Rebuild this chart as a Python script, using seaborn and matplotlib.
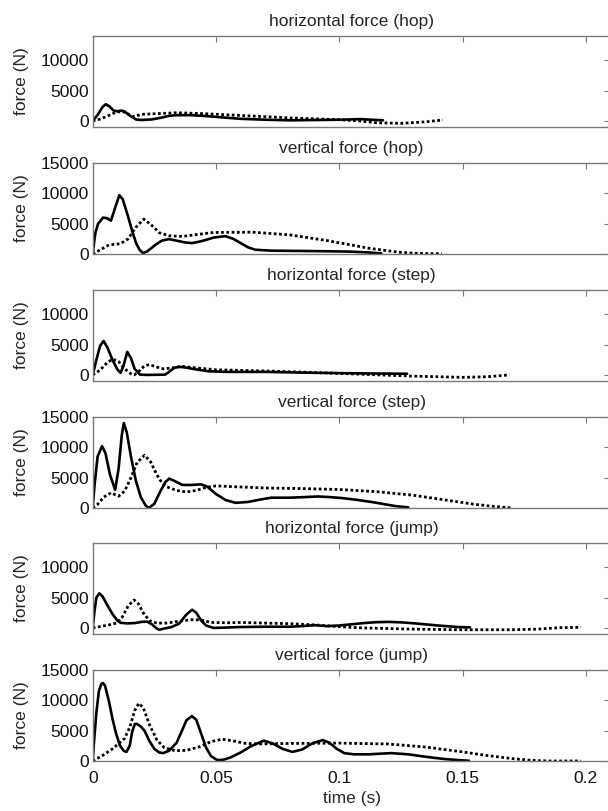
import matplotlib
matplotlib.use("Agg")
import matplotlib.pyplot as plt
import seaborn as sns
import pandas as pd

# ---------------- data ----------------
titles = ["horizontal force (hop)", "vertical force (hop)",
          "horizontal force (step)", "vertical force (step)",
          "horizontal force (jump)", "vertical force (jump)"]

# horizontal hop
hh_solid_t = [0, 0.002, 0.004, 0.0053, 0.0068, 0.0085, 0.010, 0.0115, 0.0128, 0.015, 0.0175, 0.0195, 0.024, 0.028, 0.031, 0.034, 0.040, 0.046, 0.052, 0.060, 0.070, 0.080, 0.090, 0.100, 0.1086, 0.1177]
hh_solid_f = [0, 1000, 2300, 2750, 2400, 1700, 1600, 1700, 1600, 900, 250, 150, 250, 550, 850, 950, 950, 800, 600, 350, 200, 100, 150, 200, 300, 100]
hh_dot_t = [0, 0.003, 0.006, 0.0097, 0.0126, 0.0145, 0.016, 0.018, 0.0207, 0.026, 0.034, 0.045, 0.060, 0.070, 0.080, 0.090, 0.100, 0.108, 0.115, 0.125, 0.135, 0.142]
hh_dot_f = [0, 300, 800, 1500, 1500, 1100, 700, 900, 1100, 1200, 1350, 1200, 900, 700, 500, 350, 200, 0, -300, -400, -150, 150]

# vertical hop
vh_solid_t = [0, 0.0006, 0.0011, 0.0022, 0.0042, 0.0058, 0.0074, 0.009, 0.0108, 0.0122, 0.0144, 0.016, 0.0176, 0.019, 0.0204, 0.022, 0.0254, 0.028, 0.0309, 0.034, 0.0375, 0.0403, 0.044, 0.049, 0.0537, 0.057, 0.060, 0.063, 0.066, 0.0725, 0.085, 0.095, 0.104, 0.112, 0.117]
vh_solid_f = [0, 2000, 3500, 5000, 6000, 5900, 5500, 7500, 9700, 9000, 6100, 3800, 1800, 700, 150, 400, 1500, 2200, 2450, 2200, 1900, 1800, 2100, 2700, 2950, 2500, 1800, 1100, 700, 550, 500, 450, 400, 250, 100]
vh_dot_t = [0, 0.0035, 0.0066, 0.0113, 0.0144, 0.0175, 0.0207, 0.0235, 0.027, 0.031, 0.0364, 0.042, 0.049, 0.0647, 0.080, 0.096, 0.112, 0.124, 0.132, 0.1416]
vh_dot_f = [0, 800, 1500, 1700, 2500, 4400, 5750, 4900, 3500, 3000, 2900, 3200, 3550, 3600, 3150, 2150, 950, 300, 100, 50]

# horizontal step
hs_solid_t = [0, 0.0015, 0.003, 0.0044, 0.006, 0.008, 0.010, 0.0113, 0.0125, 0.014, 0.0155, 0.017, 0.0192, 0.022, 0.0294, 0.031, 0.033, 0.035, 0.038, 0.042, 0.047, 0.055, 0.070, 0.090, 0.110, 0.1275]
hs_solid_f = [0, 2500, 4800, 5600, 4500, 2500, 900, 350, 1500, 3800, 2800, 1000, 50, 0, 50, 500, 1150, 1350, 1200, 900, 600, 500, 500, 350, 250, 200]
hs_dot_t = [0, 0.003, 0.006, 0.0082, 0.0105, 0.013, 0.0155, 0.0168, 0.019, 0.021, 0.023, 0.026, 0.0286, 0.032, 0.0364, 0.041, 0.050, 0.070, 0.090, 0.110, 0.130, 0.150, 0.160, 0.169]
hs_dot_f = [0, 800, 2100, 2600, 2200, 1000, 200, 0, 700, 1500, 1700, 1300, 1000, 1150, 1400, 1200, 850, 650, 400, 100, -200, -400, -300, 0]

# vertical step
vs_solid_t = [0, 0.0008, 0.002, 0.0038, 0.0052, 0.007, 0.0091, 0.0105, 0.0118, 0.0126, 0.0138, 0.0155, 0.0175, 0.0195, 0.0215, 0.0228, 0.025, 0.0275, 0.0295, 0.031, 0.033, 0.0364, 0.040, 0.044, 0.0465, 0.050, 0.054, 0.058, 0.063, 0.068, 0.0725, 0.080, 0.086, 0.0914, 0.096, 0.1008, 0.107, 0.113, 0.118, 0.123, 0.128]
vs_solid_f = [0, 4000, 8500, 10200, 9000, 5500, 3000, 6500, 12000, 14000, 12500, 8500, 4500, 1800, 400, 0, 700, 2800, 4300, 4850, 4500, 3800, 3800, 3900, 3500, 2300, 1300, 850, 1000, 1400, 1700, 1700, 1800, 1900, 1800, 1650, 1350, 1000, 650, 300, 100]
vs_dot_t = [0, 0.002, 0.0045, 0.0074, 0.0105, 0.013, 0.0155, 0.018, 0.021, 0.0235, 0.026, 0.028, 0.030, 0.034, 0.038, 0.042, 0.046, 0.050, 0.055, 0.070, 0.085, 0.100, 0.115, 0.130, 0.145, 0.155, 0.163, 0.170]
vs_dot_f = [0, 600, 1800, 2500, 1950, 2800, 5000, 7500, 8700, 7600, 5500, 4200, 3500, 2900, 2650, 2900, 3400, 3650, 3550, 3300, 3200, 3050, 2700, 2100, 1200, 600, 250, 0]

# horizontal jump
hj_solid_t = [0, 0.0008, 0.0015, 0.0027, 0.004, 0.006, 0.008, 0.010, 0.0113, 0.014, 0.017, 0.020, 0.022, 0.024, 0.026, 0.027, 0.029, 0.032, 0.035, 0.038, 0.0403, 0.042, 0.044, 0.046, 0.049, 0.053, 0.060, 0.070, 0.080, 0.085, 0.090, 0.095, 0.100, 0.105, 0.110, 0.115, 0.120, 0.126, 0.132, 0.140, 0.148, 0.153]
hj_solid_f = [0, 3000, 5000, 5700, 5200, 3700, 2300, 1200, 850, 750, 800, 1000, 1050, 600, -100, -300, -100, 150, 700, 2200, 3000, 2500, 1200, 400, 0, 50, 150, 200, 200, 300, 450, 300, 400, 600, 800, 950, 1000, 900, 700, 400, 150, 100]
hj_dot_t = [0, 0.0066, 0.0097, 0.012, 0.0145, 0.0168, 0.0185, 0.0205, 0.023, 0.026, 0.030, 0.035, 0.040, 0.044, 0.048, 0.055, 0.060, 0.070, 0.080, 0.090, 0.100, 0.110, 0.120, 0.130, 0.150, 0.170, 0.180, 0.190, 0.198]
hj_dot_f = [0, 500, 800, 1800, 3700, 4600, 4000, 2500, 1200, 800, 800, 1100, 1350, 1300, 900, 850, 900, 800, 700, 500, 200, 0, -100, -200, -300, -300, -200, 50, 100]

# vertical jump
vj_solid_t = [0, 0.0005, 0.0015, 0.0025, 0.0035, 0.0042, 0.005, 0.0065, 0.008, 0.0095, 0.011, 0.0125, 0.0137, 0.015, 0.016, 0.0171, 0.018, 0.0195, 0.021, 0.023, 0.025, 0.027, 0.0286, 0.031, 0.034, 0.036, 0.038, 0.0402, 0.042, 0.044, 0.046, 0.048, 0.0505, 0.053, 0.056, 0.060, 0.064, 0.0694, 0.073, 0.077, 0.081, 0.085, 0.089, 0.0933, 0.096, 0.099, 0.102, 0.106, 0.112, 0.121, 0.128, 0.135, 0.142, 0.148, 0.1526]
vj_solid_f = [0, 3000, 8000, 11500, 12700, 12850, 12400, 10000, 7000, 4500, 2600, 1700, 1500, 2500, 4800, 6100, 6100, 5700, 5000, 3300, 2000, 1400, 1300, 1700, 3000, 4800, 6700, 7400, 6800, 4500, 2200, 800, 150, 200, 600, 1400, 2400, 3350, 2900, 2000, 1500, 1900, 2900, 3450, 3000, 2000, 1300, 1100, 1100, 1300, 1100, 700, 350, 150, 50]
vj_dot_t = [0, 0.004, 0.008, 0.0129, 0.015, 0.017, 0.0187, 0.0205, 0.023, 0.026, 0.029, 0.0333, 0.038, 0.043, 0.048, 0.0525, 0.057, 0.062, 0.068, 0.080, 0.100, 0.120, 0.135, 0.150, 0.160, 0.170, 0.178, 0.185, 0.198]
vj_dot_f = [0, 900, 2000, 3700, 5500, 8300, 9500, 8800, 6000, 3500, 2200, 1700, 1750, 2300, 3200, 3600, 3300, 2900, 2800, 2900, 2950, 2800, 2300, 1500, 900, 400, 100, 0, 0]

solid_t = [hh_solid_t, vh_solid_t, hs_solid_t, vs_solid_t, hj_solid_t, vj_solid_t]
solid_f = [hh_solid_f, vh_solid_f, hs_solid_f, vs_solid_f, hj_solid_f, vj_solid_f]
dot_t = [hh_dot_t, vh_dot_t, hs_dot_t, vs_dot_t, hj_dot_t, vj_dot_t]
dot_f = [hh_dot_f, vh_dot_f, hs_dot_f, vs_dot_f, hj_dot_f, vj_dot_f]

x_ticks = [0, 0.05, 0.1, 0.15, 0.2]
x_ticklabels = ["0", "0.05", "0.1", "0.15", "0.2"]
h_yticks = [0, 5000, 10000]
v_yticks = [0, 5000, 10000, 15000]

# ---------------- style ----------------
sns.set_style("white")
plt.rcParams["font.family"] = ["Liberation Sans", "DejaVu Sans"]
plt.rcParams["font.size"] = 12

W, H = 608, 811
fig = plt.figure(figsize=(W / 100, H / 100), dpi=100)

left_px, right_px = 92.7, 610.5
tops_px = [36, 163, 290, 417, 543, 670]
h_px = 91
box_col = "#7a7a7a"

for i in range(6):
    top = tops_px[i]
    ax = fig.add_axes([left_px / W, 1 - (top + h_px) / H,
                       (right_px - left_px) / W, h_px / H])
    d_solid = pd.DataFrame({"t": solid_t[i], "F": solid_f[i]})
    d_dot = pd.DataFrame({"t": dot_t[i], "F": dot_f[i]})
    sns.lineplot(data=d_dot, x="t", y="F", ax=ax, color="black",
                 linewidth=2.0, estimator=None, sort=False,
                 linestyle=(0, (1, 0.9)))
    sns.lineplot(data=d_solid, x="t", y="F", ax=ax, color="black",
                 linewidth=1.9, estimator=None, sort=False)
    ax.set_xlim(0, 0.21)
    if i % 2 == 0:
        ax.set_ylim(-1000, 14000)
        ax.set_yticks(h_yticks)
        ax.set_yticklabels([str(v) for v in h_yticks])
    else:
        ax.set_ylim(0, 15000)
        ax.set_yticks(v_yticks)
        ax.set_yticklabels([str(v) for v in v_yticks])
    ax.set_xticks(x_ticks)
    if i == 5:
        ax.set_xticklabels(x_ticklabels)
        ax.set_xlabel("time (s)", fontsize=12.5, labelpad=4)
    else:
        ax.set_xticklabels([])
        ax.set_xlabel("")
    ax.set_ylabel("force (N)", fontsize=12.5, labelpad=8)
    ax.set_title(titles[i], fontsize=12.5, pad=7)
    ax.tick_params(direction="in", length=4, width=0.8, color=box_col,
                   top=True, right=True, labelsize=12.5,
                   labelcolor="#111111")
    ax.tick_params(axis="x", pad=7)
    ax.tick_params(axis="y", pad=3)
    for s in ax.spines.values():
        s.set_color(box_col)
        s.set_linewidth(1.0)
        s.set_visible(True)
    ax.grid(False)
    ax.set_facecolor("white")

fig.savefig("out.png", dpi=100)
